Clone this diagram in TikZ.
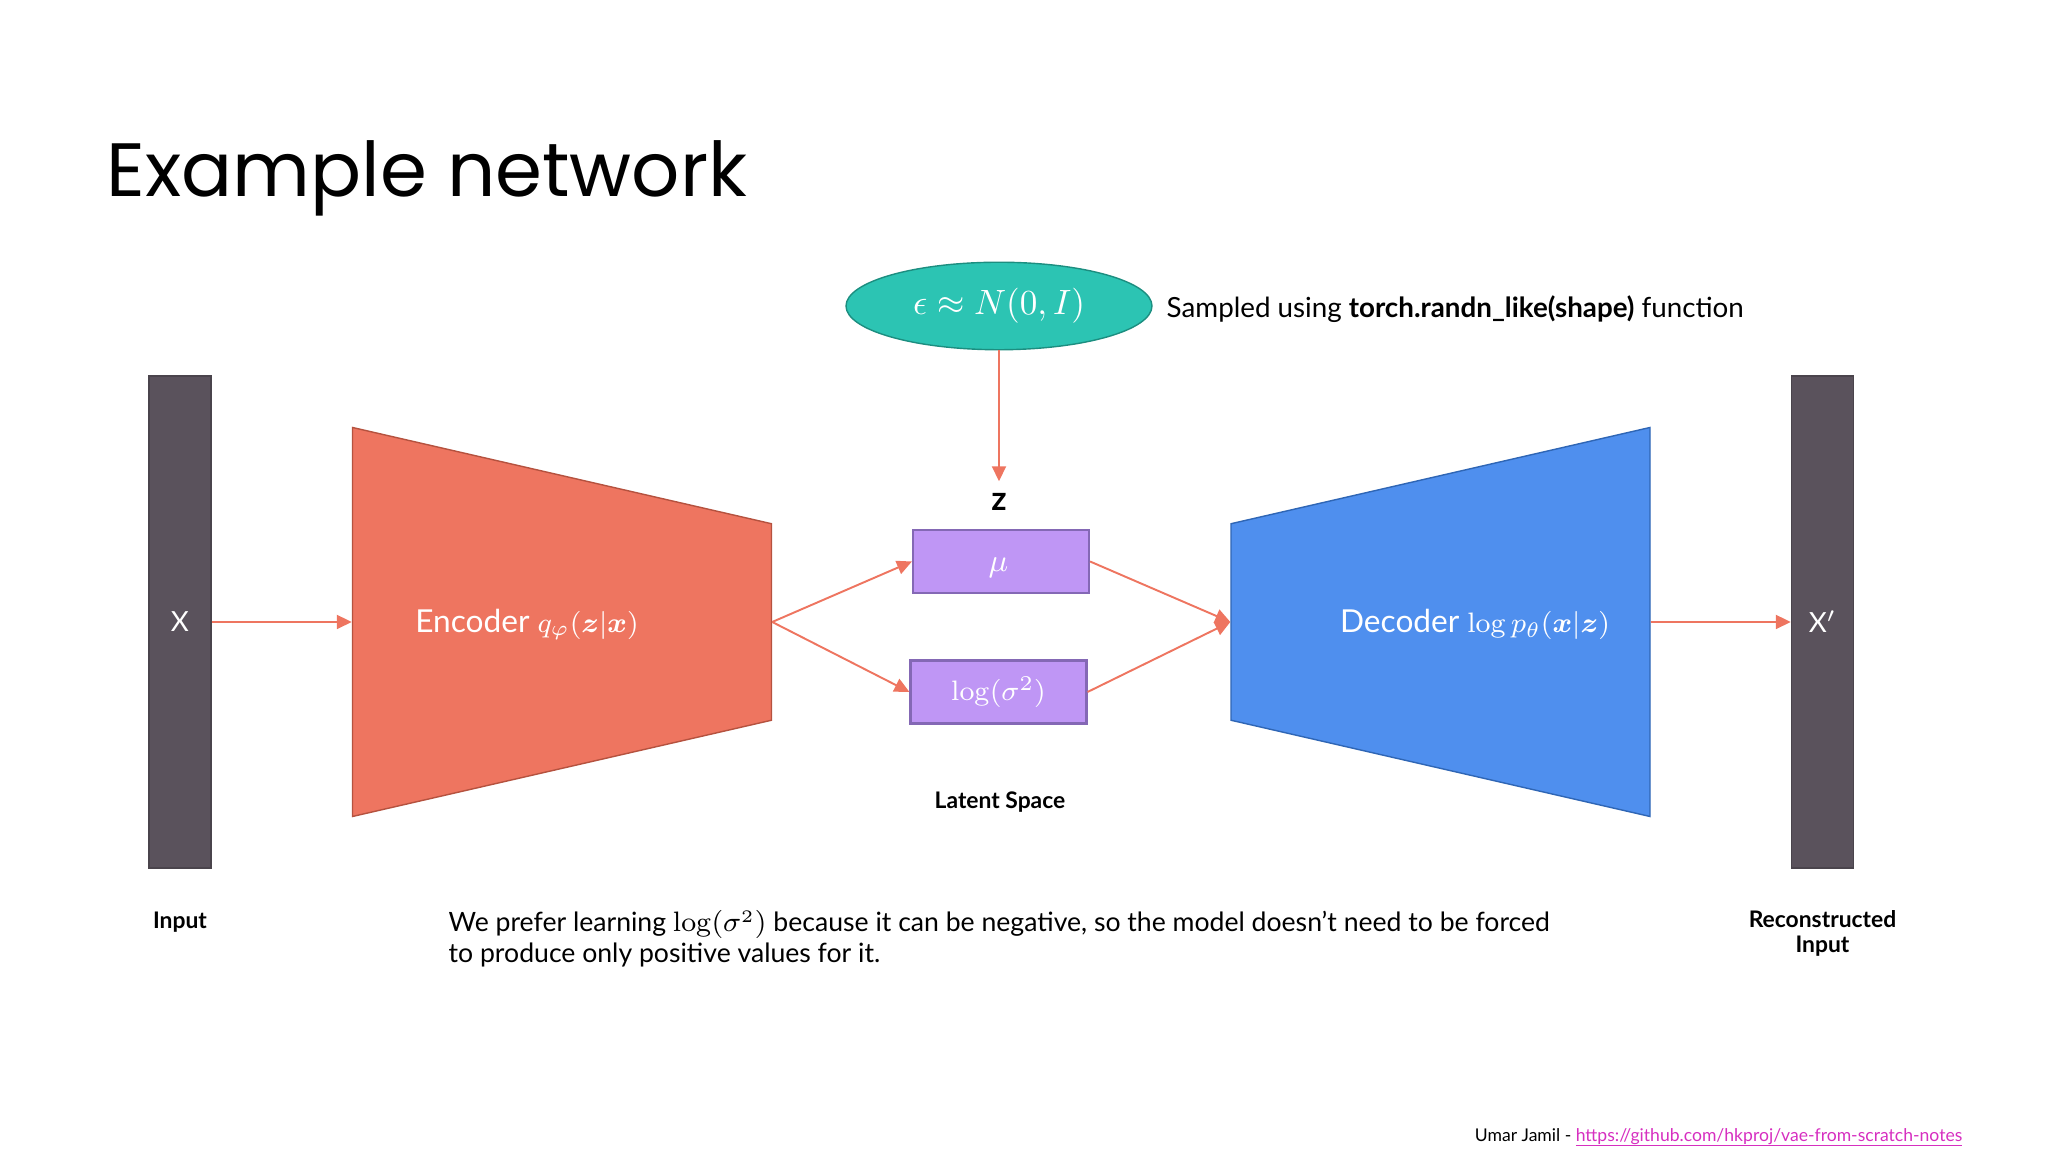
\documentclass[tikz,border=0pt]{standalone}
\usepackage{amsmath,amssymb}
\usepackage[no-math]{fontspec}
\setmainfont{Lato}
\newfontfamily\titlefont{Poppins}
\usetikzlibrary{arrows.meta,shapes.geometric}
\definecolor{encfill}{HTML}{EE7560}
\definecolor{encline}{HTML}{B5523F}
\definecolor{decfill}{HTML}{4F8FEE}
\definecolor{decline}{HTML}{2F66B5}
\definecolor{barfill}{HTML}{5A525C}
\definecolor{barline}{HTML}{4A444C}
\definecolor{boxfill}{HTML}{BF96F5}
\definecolor{boxline}{HTML}{8468B5}
\definecolor{epsfill}{HTML}{2CC4B3}
\definecolor{epsline}{HTML}{1C8E80}
\definecolor{linkcol}{HTML}{D62FC0}
\newcommand{\bodysize}{\fontsize{7.57}{8.75}\selectfont}
\newcommand{\notesize}{\fontsize{7.9}{9}\selectfont}
\newcommand{\wordsize}{\fontsize{9}{10}\selectfont}
\newcommand{\tagsize}{\fontsize{6.5}{7.1}\selectfont\bfseries}
\tikzset{
	bar/.style={draw=barline,fill=barfill,text=white,minimum width=.62cm,minimum height=4.92cm,inner sep=0pt,font=\notesize},
	trap/.style={trapezium,trapezium stretches=true,trapezium left angle=61.6,trapezium right angle=61.6,minimum width=3.89cm,minimum height=4.19cm,inner sep=0pt},
	latent/.style={draw=boxline,fill=boxfill,text=white,line width=.6pt,minimum width=1.76cm,minimum height=.63cm,inner sep=0pt,font=\notesize},
	flow/.style={-{Triangle[length=.15cm,width=.14cm]},draw=encfill,line width=.55pt},
	inside/.style={text=white,inner sep=0pt,font=\wordsize},
	tag/.style={inner sep=0pt,align=center,font=\tagsize},
}
\begin{document}
\begin{tikzpicture}
	\useasboundingbox (0,0) rectangle (20.48,11.52);
	
	\node[anchor=base west,inner sep=0pt,font=\titlefont\fontsize{21.5}{21.5}\selectfont] (title) at (1.06,9.55){Example network};
	
	\node[bar] (in) at (1.80,5.30){X};
	\node[bar] (out) at (18.225,5.30){X$'$};
	\node[trap,draw=encline,fill=encfill,shape border rotate=270] (enc) at (5.62,5.30){\phantom{X}};
	\node[trap,draw=decline,fill=decfill,shape border rotate=90] (dec) at (14.405,5.30){\phantom{X}};
	\node[inside] (enclabel) at (5.27,5.274){Encoder {\fontsize{8}{9}\selectfont$q_{\varphi}(\boldsymbol{z}|\boldsymbol{x})$}};
	\node[inside] (declabel) at (14.75,5.274){Decoder {\fontsize{8}{9}\selectfont$\log p_{\theta}(\boldsymbol{x}|\boldsymbol{z})$}};
	\node[latent] (mu) at (10.01,5.905){\fontsize{9}{10}\selectfont\hspace*{-.5mm}\smash{\raisebox{-1mm}{$\mu$}}};
	\node[latent] (sigma) at (9.985,4.60){\raisebox{-.4mm}{$\log(\sigma^2)$}};
	\node[ellipse,draw=epsline,fill=epsfill,text=white,minimum width=3.06cm,minimum height=.875cm,inner sep=0pt,font=\fontsize{10}{11}\selectfont] (eps) at (9.99,8.46){\raisebox{-1mm}{$\epsilon\approx N(0,I)$}};
	\node[anchor=west,inner sep=0pt,font=\notesize] (note) at (11.66,8.43){Sampled using \textbf{torch.randn\_like(shape)} function};
	\node[tag,font=\fontsize{9.5}{10}\selectfont\bfseries,minimum height=.39cm] (z) at (9.99,6.505){z};
	\node[tag] (latentlabel) at (10.0,3.50){Latent Space};
	\node[tag] (inlabel) at (1.80,2.30){Input};
	\node[tag,anchor=north] (outlabel) at (18.225,2.42){Reconstructed\\Input};
	\node[anchor=north west,inner sep=0pt,align=left,font=\bodysize] (why) at (4.48,2.42){We prefer learning $\log(\sigma^2)$ because it can be negative, so the model doesn't need to be forced\\to produce only positive values for it.};
	\node[anchor=base east,inner sep=0pt,font=\fontsize{5}{6}\selectfont] (credit) at (19.63,.10){Umar Jamil - \textcolor{linkcol}{\underline{\smash{https://github.com/hkproj/vae-from-scratch-notes}}}};
	
	%edges
	\draw[flow] (eps.south) -- (z.north);
	\draw[flow] (in.east) -- (enc.bottom side);
	\draw[flow] (enc.top side) -- (mu.west);
	\draw[flow] (enc.top side) -- (sigma.west);
	\draw[flow] (mu.east) -- (dec.top side);
	\draw[flow] (sigma.east) -- (dec.top side);
	\draw[flow] (dec.bottom side) -- (out.west);
	
\end{tikzpicture}
\end{document}
